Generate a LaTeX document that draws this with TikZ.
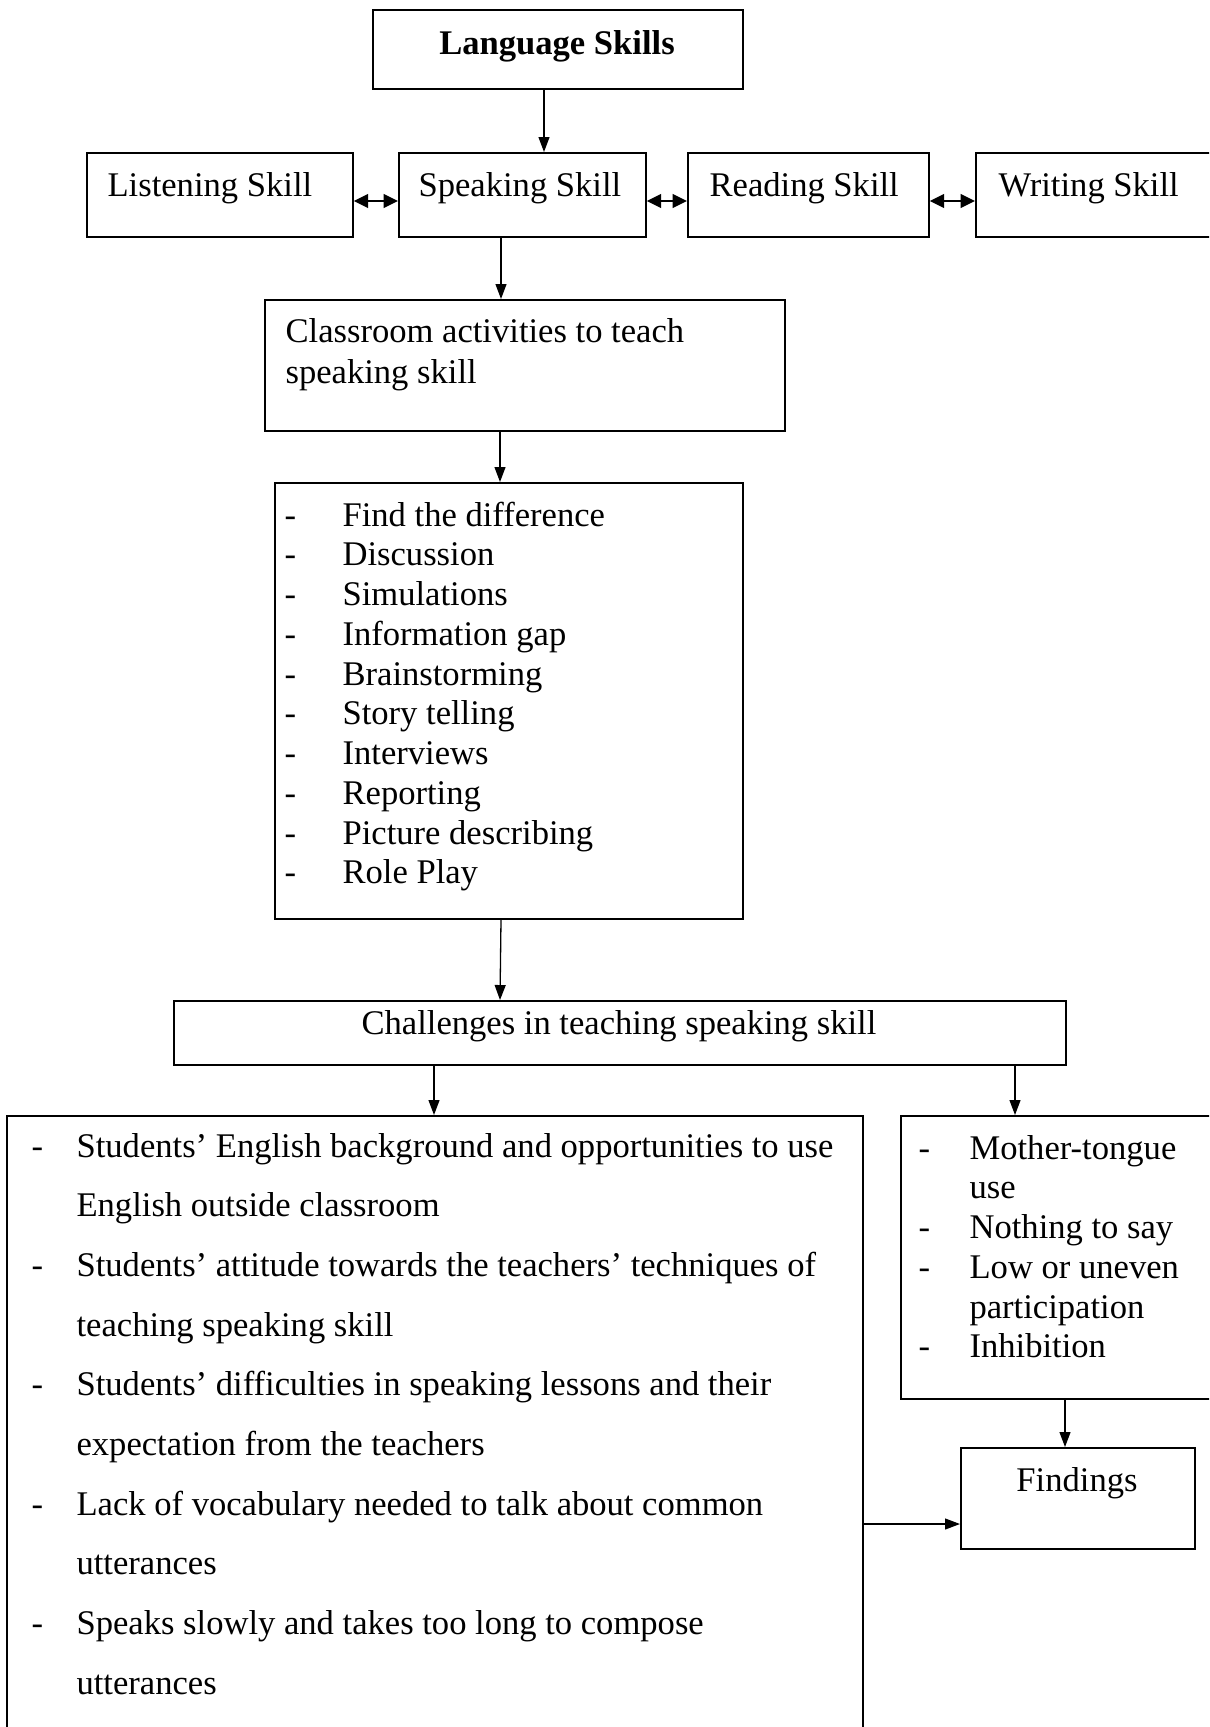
\documentclass[tikz,border=0pt]{standalone}
\usepackage{fontspec}
\setmainfont{Liberation Serif}
\usetikzlibrary{arrows.meta}
\tikzset{
  boxst/.style={draw, line width=0.6pt, rectangle, inner sep=0pt, anchor=north west},
  txt/.style={anchor=base west, inner sep=0pt, font=\fontsize{12}{14}\selectfont},
  ctxt/.style={anchor=base, inner sep=0pt, font=\fontsize{12}{14}\selectfont},
  arr/.style={-{Triangle[length=5.2pt,width=3.8pt]}, line width=0.45pt},
  darr/.style={{Triangle[length=5pt,width=4.8pt]}-{Triangle[length=5pt,width=4.8pt]}, line width=0.7pt}
}
\begin{document}
\begin{tikzpicture}[x=0.347pt, y=-0.347pt]
\useasboundingbox (0,0) rectangle (1209,1727);
\fill[white] (0,0) rectangle (1209,1727);
\clip (0,0) rectangle (1209,1727);

% boxes
\node[boxst, minimum width=370*0.347pt, minimum height=79*0.347pt] (lang) at (372,9) {};
\node[boxst, minimum width=266*0.347pt, minimum height=84*0.347pt] (listen) at (86,152) {};
\node[boxst, minimum width=247*0.347pt, minimum height=84*0.347pt] (speak) at (398,152) {};
\node[boxst, minimum width=241*0.347pt, minimum height=84*0.347pt] (read) at (687,152) {};
\node[boxst, minimum width=255*0.347pt, minimum height=84*0.347pt] (write) at (975,152) {};
\node[boxst, minimum width=520*0.347pt, minimum height=131*0.347pt] (class) at (264,299) {};
\node[boxst, minimum width=468*0.347pt, minimum height=436*0.347pt] (list) at (274,482) {};
\node[boxst, minimum width=892*0.347pt, minimum height=64*0.347pt] (chal) at (173,1000) {};
\node[boxst, minimum width=856*0.347pt, minimum height=645*0.347pt] (left) at (6,1115) {};
\node[boxst, minimum width=330*0.347pt, minimum height=283*0.347pt] (right) at (900,1115) {};
\node[boxst, minimum width=234*0.347pt, minimum height=101*0.347pt] (find) at (960,1447) {};

% texts
\node[ctxt, font=\fontsize{12}{14}\selectfont\bfseries] (tlang) at (557,54) {Language Skills};
\node[txt] (tlisten) at (107,196) {Listening Skill};
\node[txt] (tspeak) at (418,196) {Speaking Skill};
\node[txt] (tread) at (709,196) {Reading Skill};
\node[txt] (twrite) at (998,196) {Writing Skill};
\node[txt] (tclass1) at (285,342) {Classroom activities to teach};
\node[txt] (tclass2) at (285,383) {speaking skill};

\foreach \t [count=\i from 0] in {Find the difference, Discussion, Simulations, Information gap, Brainstorming, Story telling, Interviews, Reporting, Picture describing, Role Play} {
  \node[txt] (ld\i) at (284,526+39.75*\i) {-};
  \node[txt] (lt\i) at (342,526+39.75*\i) {\t};
}

\node[ctxt] (tchal) at (619,1034) {Challenges in teaching speaking skill};

\foreach \t [count=\i from 0] in {{Students’ English background and opportunities to use}, {English outside classroom}, {Students’ attitude towards the teachers’ techniques of}, {teaching speaking skill}, {Students’ difficulties in speaking lessons and their}, {expectation from the teachers}, {Lack of vocabulary needed to talk about common}, {utterances}, {Speaks slowly and takes too long to compose}, {utterances}} {
  \node[txt] (bt\i) at (76,1157+59.7*\i) {\t};
}
\foreach \i in {0,2,4,6,8} {
  \node[txt] (bd\i) at (31,1157+59.7*\i) {-};
}

\foreach \t [count=\i from 0] in {Mother-tongue, use, Nothing to say, Low or uneven, participation, Inhibition} {
  \node[txt] (rt\i) at (969,1159+39.75*\i) {\t};
}
\foreach \i in {0,2,3,5} {
  \node[txt] (rd\i) at (918,1159+39.75*\i) {-};
}

\node[ctxt] (tfind) at (1077,1491) {Findings};

% lanes
\coordinate (xa) at (544,0);
\coordinate (xb) at (501,0);
\coordinate (xc) at (500,0);
\coordinate (xd) at (434,0);
\coordinate (xe) at (1015,0);
\coordinate (xf) at (1065,0);
\coordinate (ya) at (0,201);
\coordinate (yb) at (0,1524);

% connectors
\draw[arr] (lang.south -| xa) -- (speak.north -| xa);
\draw[arr] (speak.south -| xb) -- (class.north -| xb);
\draw[arr] (class.south -| xc) -- (list.north -| xc);
\draw[arr] (list.south -| xb) -- (chal.north -| xc);
\draw[arr] (chal.south -| xd) -- (left.north -| xd);
\draw[arr] (chal.south -| xe) -- (right.north -| xe);
\draw[arr] (right.south -| xf) -- (find.north -| xf);
\draw[arr] (left.east |- yb) -- (find.west |- yb);
\draw[darr] (listen.east |- ya) -- (speak.west |- ya);
\draw[darr] (speak.east |- ya) -- (read.west |- ya);
\draw[darr] (read.east |- ya) -- (write.west |- ya);
\end{tikzpicture}
\end{document}
